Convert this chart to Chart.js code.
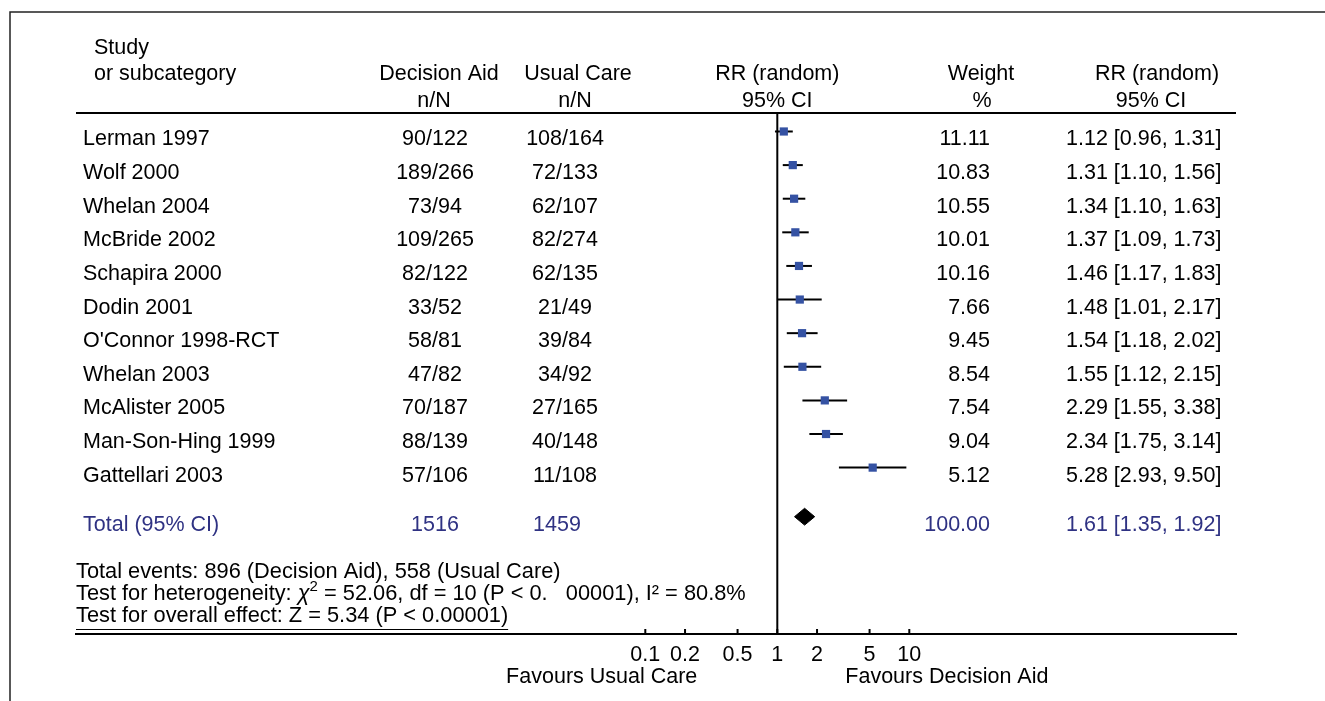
<!DOCTYPE html>
<html>
<head>
<meta charset="utf-8">
<script src="https://cdn.jsdelivr.net/npm/chart.js@4.4.0/dist/chart.umd.min.js"></script>
<style>
  html, body { margin: 0; padding: 0; background: #fff; }
  #wrap { width: 1325px; height: 701px; }
</style>
</head>
<body>
<div id="wrap"><canvas id="forest" width="1325" height="701"></canvas></div>
<script>
// Study rows, top to bottom
const studies = ['Lerman 1997', 'Wolf 2000', 'Whelan 2004', 'McBride 2002', 'Schapira 2000', 'Dodin 2001',
  "O'Connor 1998-RCT", 'Whelan 2003', 'McAlister 2005', 'Man-Son-Hing 1999', 'Gattellari 2003'];
const aidEvents = [90, 189, 73, 109, 82, 33, 58, 47, 70, 88, 57];
const aidTotal = [122, 266, 94, 265, 122, 52, 81, 82, 187, 139, 106];
const careEvents = [108, 72, 62, 82, 62, 21, 39, 34, 27, 40, 11];
const careTotal = [164, 133, 107, 274, 135, 49, 84, 92, 165, 148, 108];
const rr = [1.12, 1.31, 1.34, 1.37, 1.46, 1.48, 1.54, 1.55, 2.29, 2.34, 5.28];
const rrLow = [0.96, 1.10, 1.10, 1.09, 1.17, 1.01, 1.18, 1.12, 1.55, 1.75, 2.93];
const rrHigh = [1.31, 1.56, 1.63, 1.73, 1.83, 2.17, 2.02, 2.15, 3.38, 3.14, 9.50];
const weights = ['11.11', '10.83', '10.55', '10.01', '10.16', '7.66', '9.45', '8.54', '7.54', '9.04', '5.12'];

// Pooled estimate
const totalLabel = 'Total (95% CI)';
const totalAid = 1516;
const totalCare = 1459;
const totalWeight = '100.00';
const totalRR = 1.61;
const totalLow = 1.35;
const totalHigh = 1.92;

// Axis
const tickValues = [0.1, 0.2, 0.5, 1, 2, 5, 10];
const tickLabels = ['0.1', '0.2', '0.5', '1', '2', '5', '10'];

const FONT = "'Liberation Sans', Arial, Helvetica, sans-serif";
const SIZE = 21.5;
const NAVY = '#2f3283';
const MARKER = '#3552a3';
const totalRow = 11.46;

function fmt(v) { return v.toFixed(2); }

const ciSets = studies.map((s, i) => ({
  data: [{ x: rrLow[i], y: i }, { x: rrHigh[i], y: i }],
  showLine: true,
  borderColor: '#000',
  borderWidth: 2,
  pointRadius: 0,
  order: 2
}));

const forestTable = {
  id: 'forestTable',
  beforeDatasetsDraw(chart) {
    const { ctx, chartArea, scales: { x } } = chart;
    const one = x.getPixelForValue(1);
    ctx.save();
    ctx.strokeStyle = '#000';
    ctx.lineWidth = 2;
    ctx.beginPath();
    ctx.moveTo(one, chartArea.top);
    ctx.lineTo(one, chartArea.bottom);
    ctx.stroke();
    // tick marks pointing up from the axis
    ctx.lineWidth = 2;
    tickValues.forEach(v => {
      const px = x.getPixelForValue(v);
      ctx.beginPath();
      ctx.moveTo(px, chartArea.bottom - 5);
      ctx.lineTo(px, chartArea.bottom + 1);
      ctx.stroke();
    });
    ctx.restore();
  },
  afterDraw(chart) {
    const { ctx, chartArea, scales: { x, y } } = chart;
    const one = x.getPixelForValue(1);
    ctx.save();

    // outer frame
    ctx.strokeStyle = '#222';
    ctx.lineWidth = 1.5;
    ctx.beginPath();
    ctx.moveTo(10, 701);
    ctx.lineTo(10, 12);
    ctx.lineTo(1325, 12);
    ctx.stroke();

    // header rule
    ctx.strokeStyle = '#000';
    ctx.lineWidth = 2;
    ctx.beginPath();
    ctx.moveTo(chartArea.left, chartArea.top);
    ctx.lineTo(chartArea.right, chartArea.top);
    ctx.stroke();

    ctx.font = SIZE + 'px ' + FONT;
    ctx.fillStyle = '#000';
    ctx.textBaseline = 'alphabetic';

    // headers
    ctx.textAlign = 'left';
    ctx.fillText('Study', 94, 54);
    ctx.fillText('or subcategory', 94, 80);
    ctx.textAlign = 'center';
    const heads = [
      ['Decision Aid', 'n/N', 439, 434],
      ['Usual Care', 'n/N', 578, 575],
      ['RR (random)', '95% CI', one, one],
      ['Weight', '%', 981, 982],
      ['RR (random)', '95% CI', 1157, 1151]
    ];
    heads.forEach(h => {
      ctx.fillText(h[0], h[2], 80);
      ctx.fillText(h[1], h[3], 106.5);
    });

    // study rows
    studies.forEach((s, i) => {
      const by = y.getPixelForValue(i) + 14;
      ctx.textAlign = 'left';
      ctx.fillText(s, 83, by);
      ctx.textAlign = 'center';
      ctx.fillText(aidEvents[i] + '/' + aidTotal[i], 435, by);
      ctx.fillText(careEvents[i] + '/' + careTotal[i], 565, by);
      ctx.textAlign = 'right';
      ctx.fillText(weights[i], 990, by);
      ctx.textAlign = 'left';
      ctx.fillText(fmt(rr[i]) + ' [' + fmt(rrLow[i]) + ', ' + fmt(rrHigh[i]) + ']', 1066, by);
    });

    // total row
    const ty = y.getPixelForValue(totalRow) + 14;
    ctx.fillStyle = NAVY;
    ctx.textAlign = 'left';
    ctx.fillText(totalLabel, 83, ty);
    ctx.textAlign = 'center';
    ctx.fillText(String(totalAid), 435, ty);
    ctx.fillText(String(totalCare), 557, ty);
    ctx.textAlign = 'right';
    ctx.fillText(totalWeight, 990, ty);
    ctx.textAlign = 'left';
    ctx.fillText(fmt(totalRR) + ' [' + fmt(totalLow) + ', ' + fmt(totalHigh) + ']', 1066, ty);

    // footnotes
    const FN = 21.8;
    ctx.fillStyle = '#000';
    ctx.textAlign = 'left';
    ctx.font = FN + 'px ' + FONT;
    const lx = chartArea.left;
    ctx.fillText('Total events: 896 (Decision Aid), 558 (Usual Care)', lx, 578);
    let cx = lx;
    const part1 = 'Test for heterogeneity: ';
    ctx.fillText(part1, cx, 600);
    cx += ctx.measureText(part1).width;
    ctx.font = 'italic ' + FN + 'px ' + FONT;
    ctx.fillText('\u03c7', cx, 600);
    cx += ctx.measureText('\u03c7').width;
    ctx.font = '15px ' + FONT;
    ctx.fillText('2', cx, 591);
    cx += ctx.measureText('2').width;
    ctx.font = FN + 'px ' + FONT;
    ctx.fillText(' = 52.06, df = 10 (P < 0.   00001), I\u00b2 = 80.8%', cx, 600);
    const last = 'Test for overall effect: Z = 5.34 (P < 0.00001)';
    ctx.fillText(last, lx, 622);
    const lw = ctx.measureText(last).width;
    ctx.lineWidth = 1.2;
    ctx.beginPath();
    ctx.moveTo(lx, 629.5);
    ctx.lineTo(lx + lw, 629.5);
    ctx.stroke();

    // favours labels
    ctx.font = SIZE + 'px ' + FONT;
    ctx.textAlign = 'right';
    ctx.fillText('Favours Usual Care', one - 80, 683);
    ctx.textAlign = 'left';
    ctx.fillText('Favours Decision Aid', one + 68, 683);
    ctx.restore();
  }
};

new Chart(document.getElementById('forest'), {
  type: 'scatter',
  data: {
    datasets: [
      {
        data: rr.map((v, i) => ({ x: v, y: i })),
        pointStyle: 'rect',
        pointRadius: 5.8,
        backgroundColor: MARKER,
        borderColor: MARKER,
        borderWidth: 0,
        order: 0
      },
      {
        data: [
          { x: totalLow, y: totalRow },
          { x: totalRR, y: totalRow - 0.25 },
          { x: totalHigh, y: totalRow },
          { x: totalRR, y: totalRow + 0.25 },
          { x: totalLow, y: totalRow }
        ],
        showLine: true,
        fill: 'shape',
        backgroundColor: '#000',
        borderColor: '#000',
        borderWidth: 1,
        pointRadius: 0,
        tension: 0,
        order: 1
      },
      ...ciSets
    ]
  },
  options: {
    responsive: false,
    animation: false,
    layout: { padding: { left: 76, right: 89, top: 113, bottom: 0 } },
    plugins: { legend: { display: false }, tooltip: { enabled: false } },
    scales: {
      x: {
        type: 'logarithmic',
        min: Math.pow(10, -5.3129),
        max: Math.pow(10, 3.475),
        grid: { display: false, drawTicks: false },
        border: { display: true, color: '#000', width: 2 },
        afterBuildTicks(scale) {
          scale.ticks = tickValues.map(v => ({ value: v }));
        },
        afterFit(scale) { scale.height = 67; },
        ticks: {
          autoSkip: false,
          maxRotation: 0,
          padding: 8,
          color: '#000',
          font: { family: FONT, size: SIZE },
          callback(value) {
            const k = tickValues.indexOf(value);
            return k >= 0 ? tickLabels[k] : '';
          }
        }
      },
      y: {
        type: 'linear',
        display: false,
        reverse: true,
        min: -0.55,
        max: 14.95
      }
    }
  },
  plugins: [forestTable]
});
</script>
</body>
</html>
